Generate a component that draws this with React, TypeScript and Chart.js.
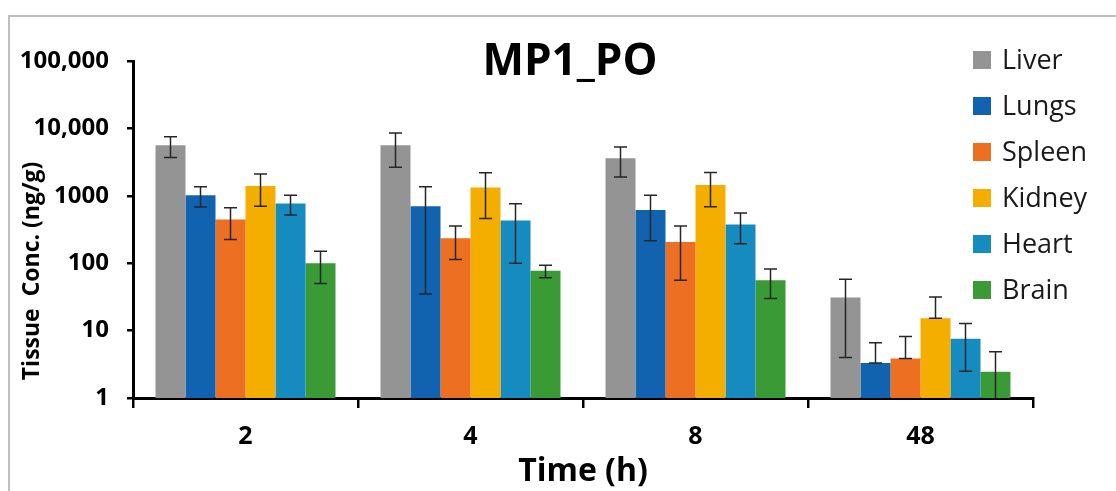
import React, { useEffect, useRef } from "react";
import { Chart, registerables } from "chart.js";
Chart.register(...registerables);

const categories = ["2", "4", "8", "48"];
const tissues = ["Liver", "Lungs", "Spleen", "Kidney", "Heart", "Brain"];
const liver = [5600, 5600, 3600, 31];
const liverErr = [1900, 2950, 1700, 27];
const lungs = [1020, 700, 615, 3.3];
const lungsErr = [340, 665, 400, 3.3];
const spleen = [445, 235, 206, 3.85];
const spleenErr = [220, 122, 150, 4.3];
const kidney = [1400, 1330, 1450, 15.2];
const kidneyErr = [700, 870, 760, 16.3];
const heart = [770, 430, 375, 7.6];
const heartErr = [250, 330, 180, 5.1];
const brain = [100, 77, 56, 2.45];
const brainErr = [50, 16, 26, 2.42];
const colors = ["#949494", "#1163B0", "#ED6F21", "#F4AE00", "#168BC0", "#3A9A35"];
const yTickValues = [1, 10, 100, 1000, 10000, 100000];
const yTickLabels = ["1", "10", "100", "1000", "10,000", "100,000"];
const chartTitle = "MP1_PO";
const xTitle = "Time (h)";
const yTitle = "Tissue  Conc. (ng/g)";

const FONT = "'Open Sans', 'Noto Sans', sans-serif";

const errorBarPlugin = {
  id: "errorBars",
  afterDatasetsDraw(chart: any) {
    const ctx = chart.ctx;
    const y = chart.scales.y;
    const area = chart.chartArea;
    ctx.save();
    ctx.beginPath();
    ctx.rect(area.left, area.top, area.right - area.left, area.bottom - area.top + 1);
    ctx.clip();
    ctx.strokeStyle = "#262626";
    ctx.lineWidth = 1.5;
    chart.data.datasets.forEach((ds: any, i: number) => {
      const meta = chart.getDatasetMeta(i);
      meta.data.forEach((bar: any, j: number) => {
        const v = ds.data[j];
        const e = ds.errors[j];
        const hi = v + e;
        const lo = v - e > 0 ? v - e : v;
        const x = bar.x;
        const yHi = y.getPixelForValue(hi);
        const loVisible = lo >= y.min;
        const yLo = loVisible ? y.getPixelForValue(lo) : area.bottom + 5;
        const cap = 6.5;
        ctx.beginPath();
        ctx.moveTo(x, yHi);
        ctx.lineTo(x, yLo);
        ctx.moveTo(x - cap, yHi);
        ctx.lineTo(x + cap, yHi);
        if (loVisible) {
          ctx.moveTo(x - cap, yLo);
          ctx.lineTo(x + cap, yLo);
        }
        ctx.stroke();
      });
    });
    ctx.restore();
  },
};

const decorPlugin = {
  id: "decor",
  afterDraw(chart: any) {
    const ctx = chart.ctx;
    ctx.save();
    // title
    ctx.fillStyle = "#000";
    ctx.font = `bold 44px ${FONT}`;
    ctx.textAlign = "center";
    ctx.textBaseline = "middle";
    ctx.fillText(chartTitle, 570, 62);
    // y axis title
    ctx.save();
    ctx.translate(32, 271);
    ctx.rotate(-Math.PI / 2);
    ctx.font = `bold 23px ${FONT}`;
    ctx.fillText(yTitle, 0, 0);
    ctx.restore();
    // legend
    ctx.font = `27px ${FONT}`;
    ctx.textAlign = "left";
    chart.data.datasets.forEach((ds: any, i: number) => {
      const cy = 60 + i * 46;
      ctx.fillStyle = ds.backgroundColor;
      ctx.fillRect(973, cy - 9, 18, 18);
      ctx.fillStyle = "#1a1a1a";
      ctx.fillText(ds.label, 1002, cy + 1);
    });
    ctx.restore();
  },
};

export default function App() {
  const ref = useRef<HTMLCanvasElement | null>(null);
  useEffect(() => {
    if (!ref.current) return;
    const series = [liver, lungs, spleen, kidney, heart, brain];
    const errs = [liverErr, lungsErr, spleenErr, kidneyErr, heartErr, brainErr];
    const chart = new Chart(ref.current, {
      type: "bar",
      data: {
        labels: categories,
        datasets: tissues.map((t, i) => ({
          label: t,
          data: series[i],
          errors: errs[i],
          backgroundColor: colors[i],
          borderWidth: 0,
          categoryPercentage: 0.8,
          barPercentage: 1,
        })) as any,
      },
      options: {
        animation: false,
        responsive: false,
        maintainAspectRatio: false,
        layout: { padding: { top: 61, right: 83, left: 0, bottom: 0 } },
        plugins: { legend: { display: false }, title: { display: false }, tooltip: { enabled: false } },
        scales: {
          x: {
            type: "category",
            grid: {
              display: true,
              drawOnChartArea: false,
              drawTicks: true,
              tickLength: 10,
              color: "#000",
              lineWidth: 2.5,
              offset: true,
            },
            border: { display: true, color: "#000", width: 3 },
            ticks: {
              color: "#000",
              font: { family: FONT, size: 25, weight: "bold" },
              padding: 14,
            },
            title: {
              display: true,
              text: xTitle,
              color: "#000",
              font: { family: FONT, size: 32, weight: "bold" },
              padding: { top: 0, bottom: 0 },
            },
            afterFit(scale: any) {
              scale.height = 93;
            },
          },
          y: {
            type: "logarithmic",
            min: 1,
            max: 100000,
            grid: {
              display: true,
              drawOnChartArea: false,
              drawTicks: true,
              tickLength: 6,
              color: "#000",
              lineWidth: 2.5,
            },
            border: { display: true, color: "#000", width: 3 },
            afterBuildTicks(scale: any) {
              scale.ticks = yTickValues.map((v) => ({ value: v }));
            },
            ticks: {
              color: "#000",
              font: { family: FONT, size: 24, weight: "bold" },
              padding: 18,
              callback: (_v: any, idx: number) => yTickLabels[idx],
            },
            title: { display: false },
            afterFit(scale: any) {
              scale.width = 133;
            },
          },
        },
      },
      plugins: [errorBarPlugin, decorPlugin],
    } as any);
    return () => chart.destroy();
  }, []);
  return (
    <div style={{ position: "fixed", left: 0, top: 0, width: 1116, height: 491, background: "#fff", overflow: "hidden" }}>
      <div
        style={{
          position: "absolute",
          left: 8,
          top: 15,
          width: 1200,
          height: 600,
          borderTop: "2px solid #BEBEBE",
          borderLeft: "2px solid #BEBEBE",
          boxSizing: "border-box",
        }}
      />
      <canvas ref={ref} width={1116} height={491} style={{ position: "absolute", left: 0, top: 0, display: "block" }} />
    </div>
  );
}
